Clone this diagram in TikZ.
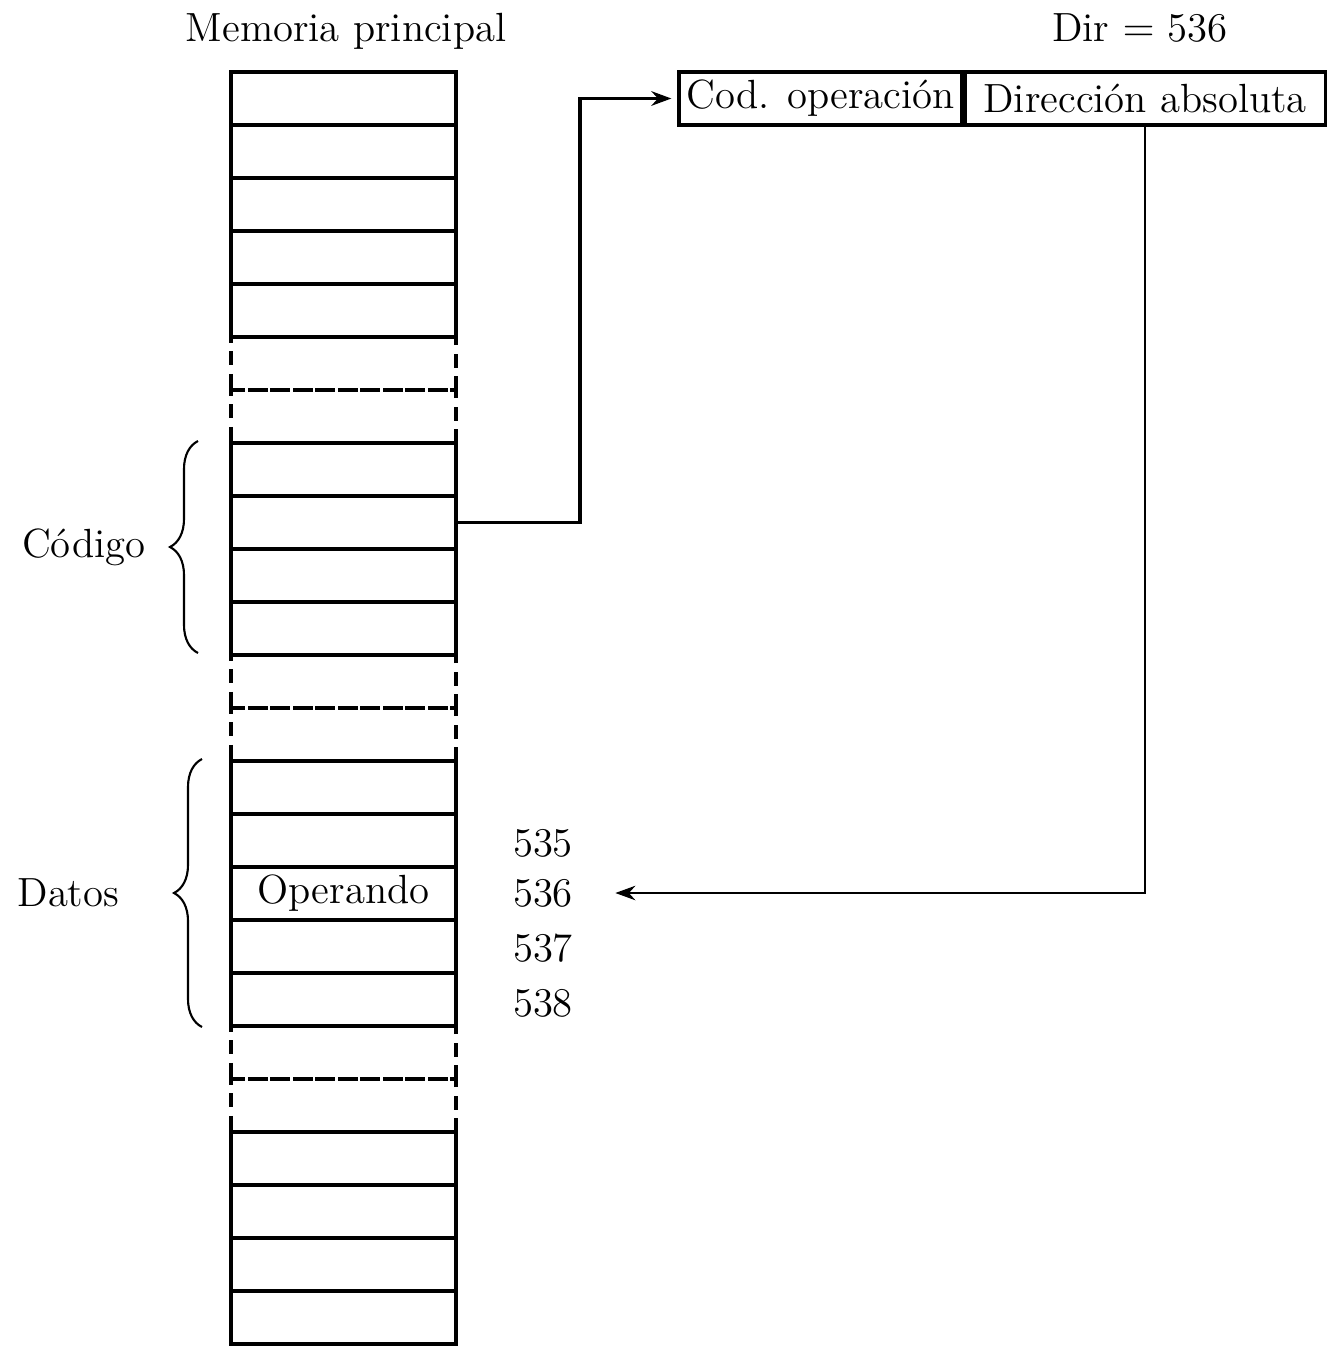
\documentclass[tikz,border=0pt]{standalone}
\usepackage{tikz}
\usetikzlibrary{arrows.meta, positioning, decorations.pathreplacing}

\begin{document}
\begin{tikzpicture}[
        font=\fontsize{11.6}{13}\selectfont,
        % Memory cells: solid thick border
        celda/.style={rectangle, draw=black, line width=1.2pt,
            minimum width=2.25cm, minimum height=0.53cm,
            inner sep=0pt, align=center},
        % Skipped cells: dashed border
        hueco/.style={celda, dash pattern=on 4pt off 2.4pt},
        % Instruction fields
        campo/.style={rectangle, draw=black, line width=0.9pt,
            minimum height=0.53cm, inner sep=0pt, align=center},
        % Curly braces
        llave/.style={decorate, semithick,
            decoration={brace, amplitude=0.28cm, aspect=0.5}},
        flecha/.style={-{Stealth[length=2mm, width=1.45mm]}},
        ]

        \useasboundingbox (0,0) rectangle (13.32,-13.51);

        % Column x-coordinate and cell height
        \def\colx{3.435}
        \def\celh{0.53}

        % === Memory column ===
        \foreach \i in {5,6,11,12,18,19}
            \node[hueco] (c\i) at (\colx,{-(0.72+\celh*\i+\celh/2)}) {};
        \foreach \i in {0,1,2,3,4,7,8,9,10,13,14,16,17,20,21,22,23}
            \node[celda] (c\i) at (\colx,{-(0.72+\celh*\i+\celh/2)}) {};
        \node[celda] (c15) at (\colx,{-(0.72+\celh*15+\celh/2)}) {Operando};

        \node (mem) at (3.46,-0.31) {Memoria principal};

        % === Instruction ===
        \node[campo, minimum width=2.83cm] (cod) at (8.205,-0.985) {Cod. operaci\'on};
        \node[campo, minimum width=3.6cm, right=0pt of cod] (dir) {Direcci\'on absoluta};
        \node (dirv) at (11.40,-0.28) {Dir $=$ 536};

        % === Addresses ===
        \node (n535) at (5.43,-8.43) {535};
        \node (n536) at (5.43,-8.93) {536};
        \node (n537) at (5.43,-9.48) {537};
        \node (n538) at (5.43,-10.03) {538};

        % === Braces ===
        \draw[llave] (1.98,-6.53) -- (1.98,-4.41)
            node[midway, left=0.4cm] (codigo) {C\'odigo};
        \draw[llave] (2.02,-10.27) -- (2.02,-7.59)
            node[midway, left=0.7cm] (datos) {Datos};

        % === Connectors ===
        \draw[flecha, line width=1.1pt, shorten >=0.06cm]
            (c8.east) -- ++(1.22,0) |- (cod.west);
        \draw[flecha, semithick, shorten >=0.3cm]
            (dir.south) |- (n536.east);

    \end{tikzpicture}
\end{document}
